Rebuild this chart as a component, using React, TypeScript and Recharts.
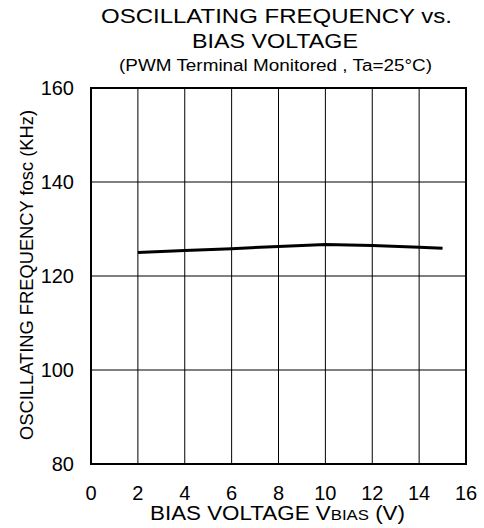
import React from "react";
import { LineChart, Line, XAxis, YAxis, CartesianGrid, ReferenceArea } from "recharts";

const biasVoltage = [2, 4, 6, 8, 10, 12, 14, 15];
const frequency = [125.0, 125.4, 125.8, 126.3, 126.7, 126.5, 126.1, 125.9];
const xTicks = [0, 2, 4, 6, 8, 10, 12, 14, 16];
const yTicks = [80, 100, 120, 140, 160];

const data = biasVoltage.map((v, i) => ({ v, f: frequency[i] }));
const FONT = "'Liberation Sans', Arial, sans-serif";

export default function App() {
  return (
    <div style={{ position: "absolute", left: 0, top: 0, width: 484, height: 528, background: "#fff", fontFamily: FONT }}>
      <LineChart
        width={484}
        height={528}
        data={data}
        margin={{ top: 88, right: 18, bottom: 34, left: 31 }}
      >
        <CartesianGrid stroke="#000" strokeWidth={1} horizontalValues={yTicks} verticalValues={xTicks} />
        <XAxis
          dataKey="v"
          type="number"
          domain={[0, 16]}
          ticks={xTicks}
          height={30}
          tickLine={false}
          axisLine={false}
          tickMargin={16}
          tick={{ fill: "#000", fontSize: 20, fontFamily: FONT }}
          interval={0}
        />
        <YAxis
          type="number"
          domain={[80, 160]}
          ticks={yTicks}
          width={60}
          tickLine={false}
          axisLine={false}
          tickMargin={11}
          tick={{ fill: "#000", fontSize: 20, fontFamily: FONT }}
          interval={0}
        />
        <ReferenceArea x1={0} x2={16} y1={80} y2={160} fill="none" stroke="#000" strokeWidth={2} ifOverflow="visible" />
        <Line
          type="linear"
          dataKey="f"
          stroke="#000"
          strokeWidth={3}
          dot={false}
          isAnimationActive={false}
        />
      </LineChart>
      <svg width={484} height={528} style={{ position: "absolute", left: 0, top: 0, pointerEvents: "none" }}>
        <g fontFamily={FONT} fill="#000">
          <text x={276.5} y={23} textAnchor="middle" fontSize={21} textLength={351} lengthAdjust="spacingAndGlyphs">
            OSCILLATING FREQUENCY vs.
          </text>
          <text x={275} y={48} textAnchor="middle" fontSize={21} textLength={166} lengthAdjust="spacingAndGlyphs">
            BIAS VOLTAGE
          </text>
          <text x={275.5} y={71} textAnchor="middle" fontSize={16} textLength={313} lengthAdjust="spacingAndGlyphs">
            (PWM Terminal Monitored , Ta=25°C)
          </text>
          <text
            x={33}
            y={275}
            textAnchor="middle"
            fontSize={18}
            textLength={330}
            lengthAdjust="spacingAndGlyphs"
            transform="rotate(-90 33 275)"
          >
            OSCILLATING FREQUENCY  fosc (KHz)
          </text>
          <text x={277.5} y={520} textAnchor="middle" fontSize={20} textLength={255} lengthAdjust="spacingAndGlyphs">
            BIAS VOLTAGE  V<tspan fontSize={15}>BIAS</tspan> (V)
          </text>
        </g>
      </svg>
    </div>
  );
}
